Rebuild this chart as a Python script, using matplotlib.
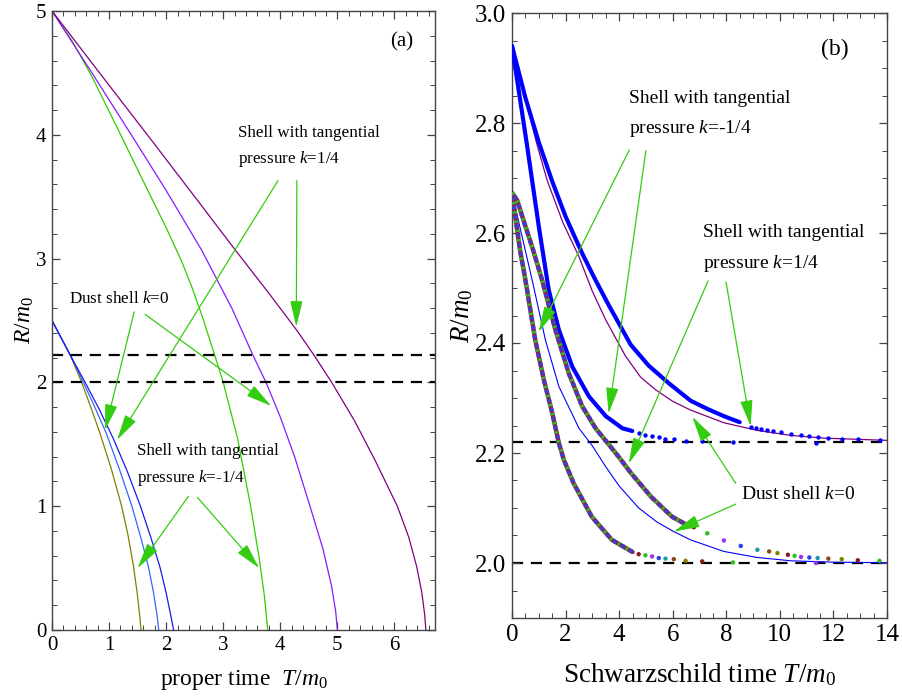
import matplotlib
matplotlib.use("Agg")
import matplotlib.pyplot as plt
from matplotlib.ticker import MultipleLocator, FormatStrFormatter

plt.rcParams['font.family'] = ['Liberation Serif', 'DejaVu Serif']
plt.rcParams['mathtext.fontset'] = 'custom'
plt.rcParams['mathtext.rm'] = 'Liberation Serif'
plt.rcParams['mathtext.it'] = 'Liberation Serif:italic'
plt.rcParams['mathtext.bf'] = 'Liberation Serif:bold'

# ---------------- data: panel (a) proper time ----------------
horizons = [2.0, 2.22]

a_green_T = [0, 0.35, 0.7, 1.15, 1.7, 2.0, 2.27, 2.45, 2.62, 2.85, 3.0, 3.25, 3.48, 3.63, 3.72, 3.78]
a_green_R = [5, 4.76, 4.47, 4.05, 3.53, 3.25, 2.98, 2.77, 2.55, 2.22, 2.0, 1.55, 1.0, 0.58, 0.28, 0]
a_violet_T = [0, 0.7, 1.43, 2.0, 2.62, 3.15, 3.52, 3.75, 4.0, 4.25, 4.52, 4.75, 4.90, 4.97, 5.0]
a_violet_R = [5, 4.50, 3.97, 3.55, 3.07, 2.60, 2.22, 2.0, 1.72, 1.40, 1.0, 0.65, 0.35, 0.15, 0]
a_purple_T = [0, 0.9, 1.72, 2.5, 3.21, 3.8, 4.29, 4.59, 4.90, 5.3, 5.65, 6.05, 6.25, 6.39, 6.48, 6.53, 6.55]
a_purple_R = [5, 4.46, 3.97, 3.50, 3.07, 2.72, 2.42, 2.22, 2.0, 1.69, 1.38, 1.0, 0.75, 0.51, 0.30, 0.12, 0]
a_olive_T = [0, 0.32, 0.52, 0.68, 0.84, 1.04, 1.22, 1.33, 1.43, 1.50, 1.54, 1.56]
a_olive_R = [2.5, 2.22, 2.0, 1.80, 1.59, 1.30, 1.0, 0.77, 0.51, 0.27, 0.10, 0]
a_blue1_T = [0, 0.32, 0.55, 0.75, 0.95, 1.18, 1.40, 1.56, 1.69, 1.78, 1.84, 1.87]
a_blue1_R = [2.5, 2.22, 2.0, 1.80, 1.59, 1.30, 1.0, 0.74, 0.51, 0.30, 0.12, 0]
a_blue2_T = [0, 0.32, 0.58, 0.82, 1.07, 1.32, 1.55, 1.73, 1.89, 2.0, 2.08, 2.13]
a_blue2_R = [2.5, 2.22, 2.0, 1.79, 1.55, 1.28, 1.0, 0.75, 0.51, 0.30, 0.12, 0]

# ---------------- data: panel (b) Schwarzschild time ----------------
bA_T = [0, 0.5, 1.0, 1.5, 2.0, 2.62, 3.1, 3.62, 4.43, 5.1, 5.85, 6.67, 7.3, 7.91, 8.5]
bA_R = [2.94, 2.846, 2.765, 2.694, 2.630, 2.563, 2.516, 2.468, 2.397, 2.359, 2.327, 2.295, 2.280, 2.267, 2.256]
bA_dots_T = [8.91, 9.10, 9.29, 9.51, 9.73, 10.04, 10.41, 10.79, 11.10, 11.41, 11.81, 12.31, 12.91, 13.72]
bA_dots_R = [2.248, 2.246, 2.244, 2.242, 2.240, 2.238, 2.235, 2.233, 2.231, 2.230, 2.228, 2.226, 2.225, 2.224]

bP_T = [0, 0.92, 1.31, 1.9, 2.5, 3.0, 3.5, 4.24, 4.8, 5.36, 6.0, 6.67, 7.91, 9.16, 10.41, 11.66, 14]
bP_R = [2.94, 2.763, 2.696, 2.619, 2.557, 2.494, 2.442, 2.376, 2.338, 2.315, 2.294, 2.278, 2.255, 2.241, 2.232, 2.227, 2.223]

bB_T = [0, 0.55, 0.75, 1.0, 1.37, 1.75, 2.25, 2.87, 3.50, 4.12, 4.49]
bB_R = [2.94, 2.763, 2.696, 2.612, 2.497, 2.424, 2.357, 2.303, 2.267, 2.245, 2.240]
bB_dots_T = [4.73, 4.98, 5.23, 5.48, 5.73, 6.04, 6.48, 7.1, 8.25, 11.35]
bB_dots_R = [2.236, 2.233, 2.231, 2.229, 2.226, 2.225, 2.222, 2.221, 2.2205, 2.219]

bD_T = [0, 0.30, 0.5, 0.87, 1.19, 1.50, 1.75, 1.94, 2.30, 2.98, 3.73, 4.5]
bD_R = [2.673, 2.569, 2.515, 2.405, 2.333, 2.273, 2.218, 2.187, 2.145, 2.084, 2.042, 2.020]
bD_dots_T = [4.73, 4.98, 5.23, 5.48, 5.73, 6.04, 6.48, 7.1, 8.25, 11.35]
bD_dots_R = [2.016, 2.014, 2.012, 2.009, 2.008, 2.007, 2.004, 2.003, 2.001, 2.0]

bC_T = [0, 0.19, 0.45, 0.75, 1.12, 1.62, 2.12, 2.62, 3.12, 3.62, 4.0, 4.45, 5.2, 5.98, 6.5]
bC_R = [2.673, 2.660, 2.620, 2.575, 2.515, 2.424, 2.345, 2.285, 2.245, 2.215, 2.192, 2.163, 2.120, 2.084, 2.070]
bC_dots_T = [6.79, 7.29, 7.91, 8.54, 9.16, 9.60, 9.91, 10.3, 10.55, 10.79, 11.1, 11.41, 11.81, 12.31, 12.91, 13.72]
bC_dots_R = [2.065, 2.054, 2.041, 2.031, 2.024, 2.021, 2.018, 2.015, 2.013, 2.011, 2.010, 2.009, 2.008, 2.007, 2.005, 2.004]

bThin_T = [0, 0.75, 1.25, 1.75, 2.5, 3.0, 3.5, 4.0, 4.73, 5.4, 6.04, 6.67, 7.91, 9.16, 10.41, 12.0, 14]
bThin_R = [2.673, 2.515, 2.405, 2.321, 2.245, 2.213, 2.175, 2.140, 2.100, 2.075, 2.057, 2.042, 2.021, 2.010, 2.004, 2.0015, 2.0005]

dot_colors = ['#8b1a1a', '#33bb22', '#9933ee', '#2244ee', '#1a99aa', '#8b4513', '#808000']

GREEN = '#33cc11'

fig = plt.figure(figsize=(9.02, 6.96), dpi=100)
axa = fig.add_axes([52/902, 1-630/696, 383/902, 619/696])
axb = fig.add_axes([512/902, 1-618/696, 375/902, 605/696])


def style(ax, xmaj, xmin, ymaj, ymin, fs):
    ax.xaxis.set_major_locator(MultipleLocator(xmaj))
    ax.xaxis.set_minor_locator(MultipleLocator(xmin))
    ax.yaxis.set_major_locator(MultipleLocator(ymaj))
    ax.yaxis.set_minor_locator(MultipleLocator(ymin))
    ax.tick_params(which='both', direction='in', top=True, right=True, color='#444444')
    ax.tick_params(which='major', length=6, width=0.9, labelsize=fs, pad=4)
    ax.tick_params(which='minor', length=3.5, width=0.7)
    for s in ax.spines.values():
        s.set_color('#444444')
        s.set_linewidth(1.0)


def arrow(ax, tail, head, lw=0.9):
    ax.annotate('', xy=head, xytext=tail,
                arrowprops=dict(arrowstyle='-|>,head_length=1.0,head_width=0.24',
                                color=GREEN, lw=lw, shrinkA=0, shrinkB=0,
                                mutation_scale=16))

# ---------------- panel (a) ----------------
ax = axa
ax.plot(a_green_T, a_green_R, color='#33cc00', lw=0.9)
ax.plot(a_violet_T, a_violet_R, color='#8a1aff', lw=0.9)
ax.plot(a_purple_T, a_purple_R, color='#800080', lw=0.9)
ax.plot(a_olive_T, a_olive_R, color='#808000', lw=0.9)
ax.plot(a_blue1_T, a_blue1_R, color='#3366ff', lw=0.9)
ax.plot(a_blue2_T, a_blue2_R, color='#1a1aee', lw=0.9)
for h in horizons:
    ax.axhline(h, color='black', lw=1.6, dashes=(5, 3.5))
ax.set_xlim(0, 6.71)
ax.set_ylim(0, 5)
style(ax, 1, 0.2, 1, 0.2, 15)
ax.set_xlabel(r'proper time  $\mathit{T/m_0}$', fontsize=17, labelpad=10)
ax.set_ylabel(r'$\mathit{R/m_0}$', fontsize=17, labelpad=0)
ax.text(6.12, 4.75, '(a)', fontsize=15, ha='center', va='center')
ax.text(3.26, 3.90, 'Shell with tangential\npressure $\\mathit{k}$=1/4', fontsize=12.3,
        ha='left', va='center', linespacing=1.6)
ax.text(0.30, 2.67, 'Dust shell $\\mathit{k}$=0', fontsize=12.3, ha='left', va='center')
ax.text(1.485, 1.33, 'Shell with tangential\npressure $\\mathit{k}$=-1/4', fontsize=12.3,
        ha='left', va='center', linespacing=1.6)
arrow(ax, (3.96, 3.63), (1.14, 1.535))
arrow(ax, (4.29, 3.63), (4.28, 2.45))
arrow(ax, (1.44, 2.57), (0.93, 1.615))
arrow(ax, (1.63, 2.55), (3.84, 1.81))
arrow(ax, (2.39, 1.08), (1.50, 0.50))
arrow(ax, (2.55, 1.07), (3.63, 0.50))

# ---------------- panel (b) ----------------
ax = axb
for h in horizons:
    ax.axhline(h, color='black', lw=1.6, dashes=(5, 3.5), zorder=1)
ax.plot(bP_T, bP_R, color='#800080', lw=0.9, zorder=2)
ax.plot(bThin_T, bThin_R, color='#0000ff', lw=0.8, zorder=2)
ax.plot(bA_T, bA_R, color='#0000ff', lw=3.0, zorder=3, solid_capstyle='round')
ax.scatter(bA_dots_T, bA_dots_R, s=10, color='#0000ff', zorder=3, linewidths=0)
ax.plot(bB_T, bB_R, color='#0000ff', lw=3.0, zorder=3, solid_capstyle='round')
ax.scatter(bB_dots_T, bB_dots_R, s=10, color='#0000ff', zorder=3, linewidths=0)
for T, R, dT, dR in [(bD_T, bD_R, bD_dots_T, bD_dots_R), (bC_T, bC_R, bC_dots_T, bC_dots_R)]:
    ax.plot(T, R, color='#7a2a6a', lw=3.2, zorder=3, solid_capstyle='round')
    ax.plot(T, R, color='#33bb22', lw=3.2, zorder=3, linestyle=(0, (0.5, 1.6)))
    ax.plot(T, R, color='#3344dd', lw=3.2, zorder=3, linestyle=(1.05, (0.5, 1.6)))
    cols = [dot_colors[i % len(dot_colors)] for i in range(len(dT))]
    ax.scatter(dT, dR, s=10, c=cols, zorder=3, linewidths=0)
ax.set_xlim(0, 14)
ax.set_ylim(1.9, 3.0)
style(ax, 2, 0.5, 0.2, 0.05, 18)
ax.yaxis.set_major_formatter(FormatStrFormatter('%.1f'))
ax.set_xlabel(r'Schwarzschild time $\mathit{T/m_0}$', fontsize=19.5, labelpad=11)
ax.set_ylabel(r'$\mathit{R/m_0}$', fontsize=19.5, labelpad=0)
ax.text(12.06, 2.933, '(b)', fontsize=17, ha='center', va='center')
ax.text(4.38, 2.815, 'Shell with tangential\npressure $\\mathit{k}$=-1/4', fontsize=14,
        ha='left', va='center', linespacing=1.75)
ax.text(7.13, 2.571, 'Shell with tangential\npressure $\\mathit{k}$=1/4', fontsize=14,
        ha='left', va='center', linespacing=1.75)
ax.text(8.54, 2.125, 'Dust shell $\\mathit{k}$=0', fontsize=14, ha='left', va='center')
arrow(axb, (4.38, 2.751), (0.99, 2.42))
arrow(axb, (5.0, 2.75), (3.61, 2.272))
arrow(axb, (7.32, 2.513), (4.36, 2.181))
arrow(axb, (7.99, 2.511), (8.91, 2.249))
arrow(axb, (8.35, 2.145), (6.73, 2.266))
arrow(axb, (8.35, 2.107), (6.04, 2.057))

fig.savefig('out.png', dpi=100)
